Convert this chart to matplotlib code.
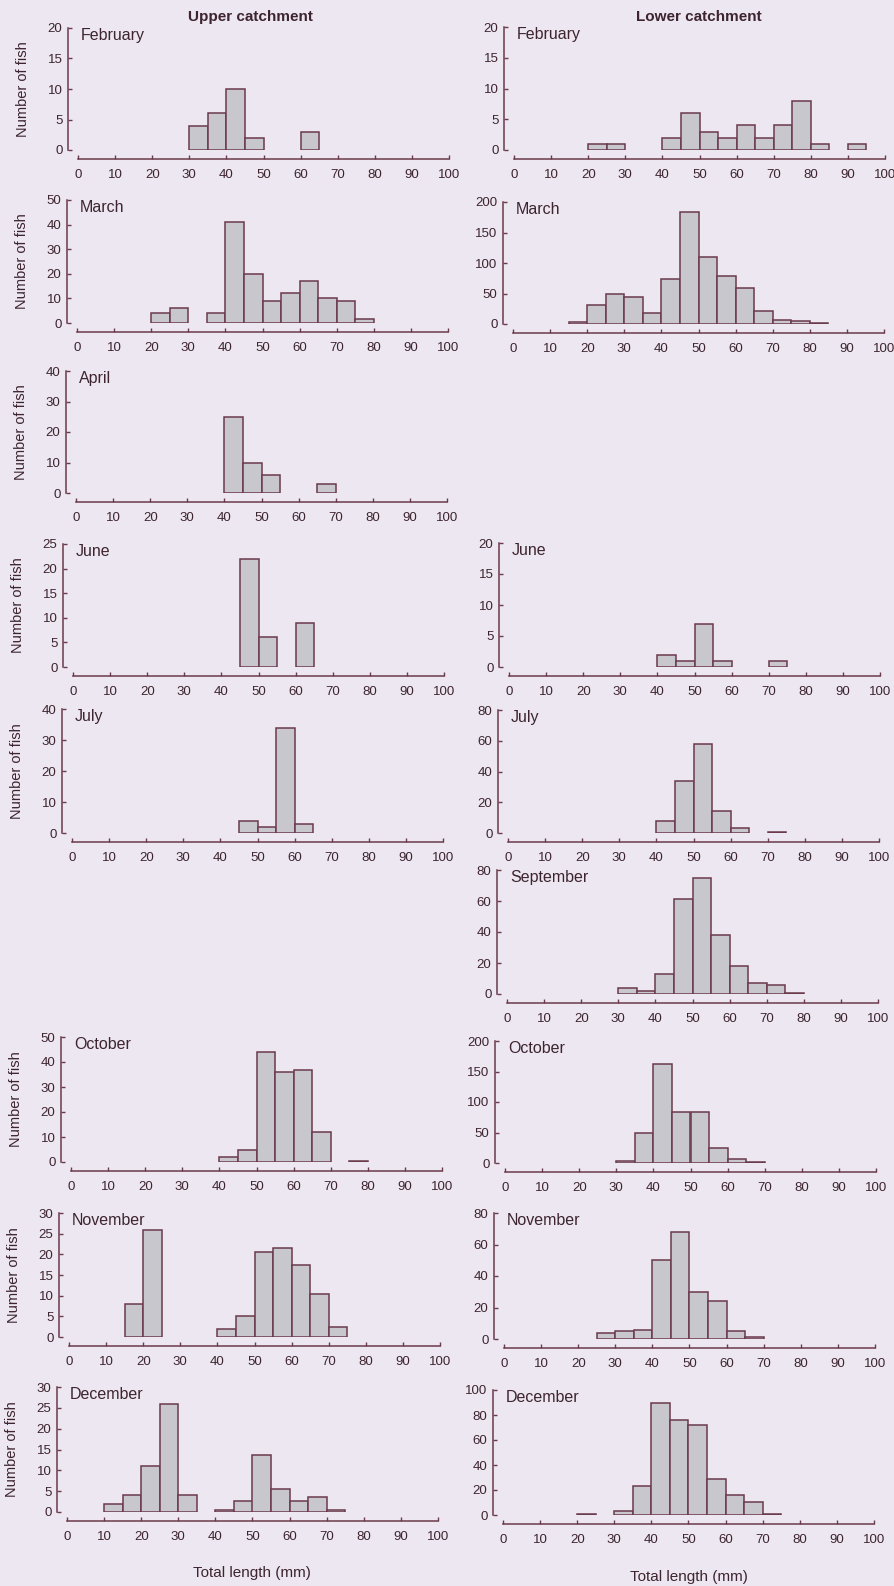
import numpy as np
import matplotlib
matplotlib.use("Agg")
import matplotlib.pyplot as plt

# counts per 5 mm length class, 0-5, 5-10, ..., 95-100
edges = np.arange(0, 101, 5)

upper_feb = [0, 0, 0, 0, 0, 0, 4, 6, 10, 2, 0, 0, 3, 0, 0, 0, 0, 0, 0, 0]
upper_mar = [0, 0, 0, 0, 4, 6, 0, 4, 41, 20, 9, 12, 17, 10, 9, 1.5, 0, 0, 0, 0]
upper_apr = [0, 0, 0, 0, 0, 0, 0, 0, 25, 10, 6, 0, 0, 3, 0, 0, 0, 0, 0, 0]
upper_jun = [0, 0, 0, 0, 0, 0, 0, 0, 0, 22, 6, 0, 9, 0, 0, 0, 0, 0, 0, 0]
upper_jul = [0, 0, 0, 0, 0, 0, 0, 0, 0, 4, 2, 34, 3, 0, 0, 0, 0, 0, 0, 0]
upper_oct = [0, 0, 0, 0, 0, 0, 0, 0, 2, 5, 44, 36, 37, 12, 0, 0.5, 0, 0, 0, 0]
upper_nov = [0, 0, 0, 8, 26, 0, 0, 0, 2, 5, 20.5, 21.5, 17.5, 10.5, 2.5, 0, 0, 0, 0, 0]
upper_dec = [0, 0, 2, 4, 11, 26, 4, 0, 0.6, 2.6, 13.6, 5.6, 2.6, 3.6, 0.6, 0, 0, 0, 0, 0]

lower_feb = [0, 0, 0, 0, 1, 1, 0, 0, 2, 6, 3, 2, 4, 2, 4, 8, 1, 0, 1, 0]
lower_mar = [0, 0, 0, 4, 31, 49, 44, 18, 73, 184, 110, 79, 59, 22, 7, 5, 1, 0, 0, 0]
lower_jun = [0, 0, 0, 0, 0, 0, 0, 0, 2, 1, 7, 1, 0, 0, 1, 0, 0, 0, 0, 0]
lower_jul = [0, 0, 0, 0, 0, 0, 0, 0, 8, 34, 58, 14, 3, 0, 0.7, 0, 0, 0, 0, 0]
lower_sep = [0, 0, 0, 0, 0, 0, 4, 2, 13, 61, 75, 38, 18, 7, 6, 0.5, 0, 0, 0, 0]
lower_oct = [0, 0, 0, 0, 0, 0, 4, 50, 162, 83, 84, 24, 7, 1, 0, 0, 0, 0, 0, 0]
lower_nov = [0, 0, 0, 0, 0, 4, 5, 6, 50, 68, 30, 24, 5, 1.3, 0, 0, 0, 0, 0, 0]
lower_dec = [0, 0, 0, 0, 0.8, 0, 3.5, 23, 90, 76, 72, 29, 16, 10.7, 0.6, 0, 0, 0, 0, 0]

upper_months = ["February", "March", "April", "June", "July", "October", "November", "December"]
upper_counts = [upper_feb, upper_mar, upper_apr, upper_jun, upper_jul, upper_oct, upper_nov, upper_dec]
upper_ymax = [20, 50, 40, 25, 40, 50, 30, 30]
upper_ystep = [5, 10, 10, 5, 10, 10, 5, 5]

lower_months = ["February", "March", "June", "July", "September", "October", "November", "December"]
lower_counts = [lower_feb, lower_mar, lower_jun, lower_jul, lower_sep, lower_oct, lower_nov, lower_dec]
lower_ymax = [20, 200, 20, 80, 80, 200, 80, 100]
lower_ystep = [5, 50, 5, 20, 20, 50, 20, 20]

# layout in pixels: (x of length 0, top of y axis, y of count 0)
upper_pos = [(78, 28, 150), (77, 200, 323), (76, 371, 493), (73, 544, 667),
             (72, 709, 833), (71, 1037, 1162), (69, 1213, 1337), (67, 1387, 1512)]
lower_pos = [(514, 27, 150), (513, 202, 324), (509, 543, 667), (508, 710, 833),
             (507, 870, 994), (505, 1041, 1163), (504, 1213, 1339), (503, 1390, 1515)]

W, H = 894, 1586
BG = "#ece7f0"
INK = "#6b3a4c"
TXT = "#3d2430"
FILL = "#c9c7ce"

plt.rcParams["font.family"] = ["Liberation Sans", "DejaVu Sans"]

fig = plt.figure(figsize=(W / 100, H / 100), dpi=100)
fig.patch.set_facecolor(BG)


def panel(pos, counts, month, ymax, ystep, ylabel):
    x0, top, zero = pos
    ax = fig.add_axes([x0 / W, 1 - zero / H, 371 / W, (zero - top) / H])
    ax.set_facecolor("none")
    counts = np.asarray(counts, dtype=float)
    keep = counts > 0
    ax.bar(edges[:-1][keep], counts[keep], width=5, align="edge", color=FILL,
           edgecolor=INK, linewidth=1.1)
    ax.set_xlim(0, 100)
    ax.set_ylim(0, ymax)
    ax.set_xticks(np.arange(0, 101, 10))
    ax.set_yticks(np.arange(0, ymax + 0.1, ystep))
    for side in ["top", "right"]:
        ax.spines[side].set_visible(False)
    ax.spines["left"].set_position(("outward", 7.2))
    ax.spines["bottom"].set_position(("outward", 6.5))
    for side in ["left", "bottom"]:
        ax.spines[side].set_color(INK)
        ax.spines[side].set_linewidth(1.1)
    ax.tick_params(axis="x", direction="in", length=3, width=1, color=INK,
                   labelsize=9.5, labelcolor=TXT, pad=7)
    ax.tick_params(axis="y", direction="in", length=3, width=1, color=INK,
                   labelsize=9.5, labelcolor=TXT, pad=4)
    ax.annotate(month, xy=(0, 1), xycoords="axes fraction", xytext=(2, 0),
                textcoords="offset points", ha="left", va="top",
                fontsize=11.5, color=TXT)
    if ylabel:
        fig.text((x0 - 55) / W, 1 - (top + zero) / 2 / H, "Number of fish",
                 rotation=90, ha="center", va="center", fontsize=10.5, color=TXT)
    return ax


for pos, counts, month, ymax, ystep in zip(upper_pos, upper_counts, upper_months,
                                           upper_ymax, upper_ystep):
    panel(pos, counts, month, ymax, ystep, True)

for pos, counts, month, ymax, ystep in zip(lower_pos, lower_counts, lower_months,
                                           lower_ymax, lower_ystep):
    panel(pos, counts, month, ymax, ystep, False)

fig.text(250 / W, 1 - 17 / H, "Upper catchment", ha="center", va="center",
         fontsize=11, fontweight="bold", color=TXT)
fig.text(699 / W, 1 - 17 / H, "Lower catchment", ha="center", va="center",
         fontsize=11, fontweight="bold", color=TXT)
fig.text(252 / W, 1 - 1573 / H, "Total length (mm)", ha="center", va="center",
         fontsize=11, color=TXT)
fig.text(689 / W, 1 - 1577 / H, "Total length (mm)", ha="center", va="center",
         fontsize=11, color=TXT)

fig.savefig("out.png", dpi=100, facecolor=BG)
